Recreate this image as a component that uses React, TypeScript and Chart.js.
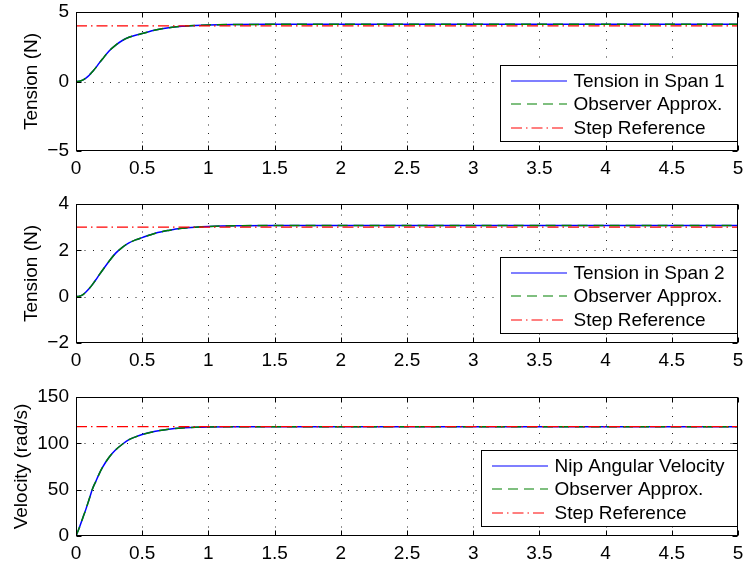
import React, { useEffect, useRef } from "react";
import { Chart, registerables } from "chart.js";

Chart.register(...registerables);

// ---- data ----
const TIME = [0, 0.025, 0.05, 0.075, 0.1, 0.125, 0.15, 0.175, 0.2, 0.25, 0.3, 0.35, 0.4, 0.45, 0.5, 0.6, 0.7, 0.8, 0.9, 1.0, 1.2, 1.5, 2, 3, 4, 5];
const REF_TIME = [0, 5];

const TENSION1 = [0, 0.02, 0.1, 0.25, 0.45, 0.72, 1.0, 1.32, 1.62, 2.2, 2.62, 2.95, 3.18, 3.33, 3.45, 3.7, 3.87, 3.97, 4.03, 4.07, 4.1, 4.11, 4.11, 4.11, 4.11, 4.11];
const OBSERVER1 = [0, 0.02, 0.1, 0.25, 0.45, 0.72, 1.0, 1.32, 1.62, 2.2, 2.62, 2.95, 3.18, 3.33, 3.45, 3.7, 3.87, 3.97, 4.03, 4.07, 4.1, 4.11, 4.11, 4.11, 4.11, 4.11];
const REF1 = [4, 4];

const TENSION2 = [0, 0.02, 0.08, 0.2, 0.35, 0.53, 0.73, 0.94, 1.14, 1.53, 1.88, 2.13, 2.32, 2.45, 2.55, 2.74, 2.86, 2.95, 3.0, 3.03, 3.06, 3.07, 3.07, 3.07, 3.07, 3.07];
const OBSERVER2 = [0, 0.02, 0.08, 0.2, 0.35, 0.53, 0.73, 0.94, 1.14, 1.53, 1.88, 2.13, 2.32, 2.45, 2.55, 2.74, 2.86, 2.95, 3.0, 3.03, 3.06, 3.07, 3.07, 3.07, 3.07, 3.07];
const REF2 = [3, 3];

const VELOCITY = [0, 9, 19, 29, 40, 51, 59, 67, 74, 85, 93, 99, 104, 107, 109.5, 113, 115.3, 116.6, 117.3, 117.7, 118, 118, 118, 118, 118, 118];
const OBSERVER3 = [0, 9, 19, 29, 40, 51, 59, 67, 74, 85, 93, 99, 104, 107, 109.5, 113, 115.3, 116.6, 117.3, 117.7, 118, 118, 118, 118, 118, 118];
const REF3 = [118, 118];

const LEGEND1 = ["Tension in Span 1", "Observer Approx.", "Step Reference"];
const LEGEND2 = ["Tension in Span 2", "Observer Approx.", "Step Reference"];
const LEGEND3 = ["Nip Angular Velocity", "Observer Approx.", "Step Reference"];

const FONT = "'Liberation Sans', Arial, Helvetica, sans-serif";
const BLUE = "#0000ff";
const GREEN = "#008000";
const RED = "#ff0000";
const GREEN_DASH = [10, 6];
const RED_DASH = [11, 4, 1.5, 4];

type PanelProps = {
  top: number;
  yMin: number;
  yMax: number;
  yStep: number;
  yTitle: string;
  titlePad: number;
  actual: number[];
  observer: number[];
  reference: number[];
  legend: string[];
};

function pts(xs: number[], ys: number[]) {
  return xs.map((x, i) => ({ x, y: ys[i] }));
}

function Panel(props: PanelProps) {
  const ref = useRef<HTMLCanvasElement | null>(null);
  useEffect(() => {
    if (!ref.current) return;
    const frame = {
      id: "frame",
      beforeDatasetsDraw(chart: any) {
        const { ctx, chartArea: a } = chart;
        const xs = chart.scales.x;
        const ys = chart.scales.y;
        ctx.save();
        ctx.strokeStyle = "#222";
        ctx.lineWidth = 1;
        ctx.setLineDash([1, 7.5]);
        xs.ticks.forEach((t: any) => {
          const px = Math.round(xs.getPixelForValue(t.value)) + 0.5;
          if (px - a.left < 2 || a.right - px < 2) return;
          ctx.beginPath();
          ctx.moveTo(px, a.bottom);
          ctx.lineTo(px, a.top);
          ctx.stroke();
        });
        ys.ticks.forEach((t: any) => {
          const py = Math.round(ys.getPixelForValue(t.value)) + 0.5;
          if (py - a.top < 2 || a.bottom - py < 2) return;
          ctx.beginPath();
          ctx.moveTo(a.left, py);
          ctx.lineTo(a.right, py);
          ctx.stroke();
        });
        ctx.restore();
      },
      afterDatasetsDraw(chart: any) {
        const { ctx, chartArea: a } = chart;
        const xs = chart.scales.x;
        const ys = chart.scales.y;
        ctx.save();
        ctx.setLineDash([]);
        ctx.strokeStyle = "#000";
        ctx.lineWidth = 1;
        const L = Math.round(a.left) + 0.5;
        const R = Math.round(a.right) - 0.5;
        const T = Math.round(a.top) + 0.5;
        const B = Math.round(a.bottom) - 0.5;
        ctx.strokeRect(L, T, R - L, B - T);
        const tl = 5;
        xs.ticks.forEach((t: any) => {
          const px = Math.round(xs.getPixelForValue(t.value)) + 0.5;
          ctx.beginPath();
          ctx.moveTo(px, B);
          ctx.lineTo(px, B - tl);
          ctx.moveTo(px, T);
          ctx.lineTo(px, T + tl);
          ctx.stroke();
        });
        ys.ticks.forEach((t: any) => {
          const py = Math.round(ys.getPixelForValue(t.value)) + 0.5;
          ctx.beginPath();
          ctx.moveTo(L, py);
          ctx.lineTo(L + tl, py);
          ctx.moveTo(R, py);
          ctx.lineTo(R - tl, py);
          ctx.stroke();
        });

        // legend
        ctx.font = `19px ${FONT}`;
        let maxW = 0;
        props.legend.forEach((s) => {
          maxW = Math.max(maxW, ctx.measureText(s).width);
        });
        const boxW = Math.round(73.5 + maxW + 12.5);
        const boxH = 76;
        const bx = Math.round(a.right) - 1 - boxW;
        const by = Math.round(a.bottom) - 10 - boxH;
        ctx.fillStyle = "#fff";
        ctx.fillRect(bx, by, boxW, boxH);
        ctx.strokeStyle = "#000";
        ctx.strokeRect(bx + 0.5, by + 0.5, boxW, boxH);
        const styles = [
          { c: BLUE, d: [] as number[] },
          { c: GREEN, d: GREEN_DASH },
          { c: RED, d: RED_DASH },
        ];
        props.legend.forEach((s, i) => {
          const cy = by + 15.5 + i * 23.5;
          const ly = Math.round(cy);
          ctx.strokeStyle = styles[i].c;
          ctx.lineWidth = 1.2;
          ctx.setLineDash(styles[i].d);
          ctx.beginPath();
          ctx.moveTo(bx + 11, ly);
          ctx.lineTo(bx + 67, ly);
          ctx.stroke();
          ctx.setLineDash([]);
          ctx.fillStyle = "#000";
          ctx.textBaseline = "middle";
          ctx.textAlign = "left";
          ctx.fillText(s, bx + 73.5, cy + 1);
        });
        ctx.restore();
      },
    };

    const tickFont = { family: FONT, size: 19 };
    const chart = new Chart(ref.current, {
      type: "line",
      data: {
        datasets: [
          {
            label: props.legend[0],
            data: pts(TIME, props.actual),
            borderColor: BLUE,
            borderWidth: 1.5,
            order: 3,
          },
          {
            label: props.legend[1],
            data: pts(TIME, props.observer),
            borderColor: GREEN,
            borderWidth: 1.5,
            borderDash: GREEN_DASH,
            order: 2,
          },
          {
            label: props.legend[2],
            data: pts(REF_TIME, props.reference),
            borderColor: RED,
            borderWidth: 1.3,
            borderDash: RED_DASH,
            order: 1,
          },
        ],
      },
      options: {
        animation: false,
        responsive: false,
        devicePixelRatio: 1,
        layout: { padding: { top: 12, right: 8, left: 0, bottom: 0 } },
        elements: {
          point: { radius: 0 },
          line: { cubicInterpolationMode: "monotone", fill: false },
        },
        plugins: { legend: { display: false }, tooltip: { enabled: false } },
        scales: {
          x: {
            type: "linear",
            min: 0,
            max: 5,
            ticks: {
              stepSize: 0.5,
              autoSkip: false,
              maxRotation: 0,
              padding: 6,
              color: "#000",
              font: tickFont,
              callback: (v: any) => String(v),
            },
            grid: { display: false, drawTicks: false },
            border: { display: false },
            afterFit: (s: any) => {
              s.height = 39;
              s.paddingLeft = 0;
              s.paddingRight = 0;
            },
          },
          y: {
            type: "linear",
            min: props.yMin,
            max: props.yMax,
            ticks: {
              stepSize: props.yStep,
              padding: 7,
              color: "#000",
              font: tickFont,
              callback: (v: any) => String(v).replace("-", "\u2212"),
            },
            grid: { display: false, drawTicks: false },
            border: { display: false },
            title: {
              display: true,
              text: props.yTitle,
              color: "#000",
              font: tickFont,
              padding: { top: props.titlePad, bottom: 0 },
            },
            afterFit: (s: any) => {
              s.width = 76;
              s.paddingTop = 0;
              s.paddingBottom = 0;
            },
          },
        },
      } as any,
      plugins: [frame],
    });
    return () => chart.destroy();
  }, []);
  return (
    <div style={{ position: "absolute", left: 0, top: props.top, width: 746, height: 190 }}>
      <canvas ref={ref} width={746} height={190} style={{ display: "block" }} />
    </div>
  );
}

export default function App() {
  return (
    <div
      style={{
        position: "absolute",
        left: 0,
        top: 0,
        width: 746,
        height: 566,
        overflow: "hidden",
        background: "#fff",
      }}
    >
      <Panel top={0} yMin={-5} yMax={5} yStep={5} yTitle="Tension (N)" titlePad={20}
        actual={TENSION1} observer={OBSERVER1} reference={REF1} legend={LEGEND1} />
      <Panel top={192} yMin={-2} yMax={4} yStep={2} yTitle="Tension (N)" titlePad={20}
        actual={TENSION2} observer={OBSERVER2} reference={REF2} legend={LEGEND2} />
      <Panel top={385} yMin={0} yMax={150} yStep={50} yTitle="Velocity (rad/s)" titlePad={10}
        actual={VELOCITY} observer={OBSERVER3} reference={REF3} legend={LEGEND3} />
    </div>
  );
}
